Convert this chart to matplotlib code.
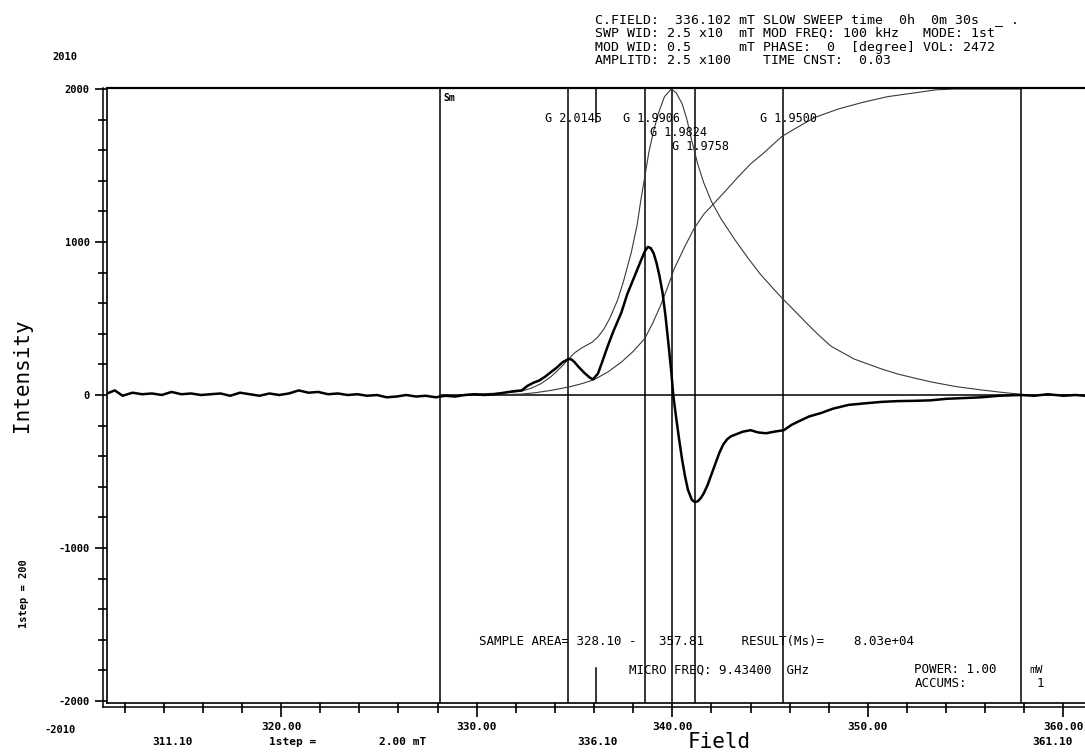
import matplotlib
matplotlib.use("Agg")
from matplotlib import pyplot as plt
from matplotlib.lines import Line2D
import numpy as np

####  dati letti dallo spettro ESR  ####
# derivata prima (traccia spessa): coppie (campo mT, intensita')
deriv = [(311.1, 10), (311.5, 30), (311.9, -5), (312.4, 15), (312.9, 5), (313.4, 10),
         (313.9, 0), (314.4, 20), (314.9, 5), (315.4, 10), (315.9, 0), (316.4, 5),
         (316.9, 10), (317.4, -5), (317.9, 15), (318.4, 5), (318.9, -5), (319.4, 10),
         (319.9, 0), (320.4, 10), (320.9, 30), (321.4, 15), (321.9, 20), (322.4, 5),
         (322.9, 10), (323.4, 0), (323.9, 5), (324.4, -5), (324.9, 0), (325.4, -15),
         (325.9, -10), (326.4, 0), (326.9, -10), (327.4, -5), (327.9, -15), (328.4, -5),
         (328.9, -10), (329.4, 0), (329.9, 5), (330.4, 0), (330.9, 5), (331.4, 15),
         (331.9, 25), (332.3, 30), (332.6, 60), (332.9, 80), (333.2, 95), (333.5, 120),
         (333.8, 150), (334.1, 180), (334.4, 215), (334.7, 235), (334.85, 232), (335.0, 215),
         (335.2, 185), (335.5, 145), (335.8, 112), (335.95, 103), (336.2, 140), (336.4, 210),
         (336.7, 320), (337.0, 420), (337.4, 540), (337.7, 660), (338.1, 785), (338.4, 880),
         (338.6, 940), (338.75, 968), (338.9, 960), (339.05, 925), (339.2, 860), (339.35, 775),
         (339.5, 670), (339.65, 520), (339.8, 340), (339.95, 150), (340.05, 0), (340.2, -150),
         (340.35, -290), (340.5, -420), (340.65, -530), (340.8, -620), (341.0, -685), (341.15, -700),
         (341.3, -695), (341.45, -675), (341.6, -645), (341.8, -590), (342.0, -520), (342.2, -450),
         (342.4, -380), (342.6, -325), (342.8, -290), (343.0, -270), (343.3, -255), (343.6, -240),
         (344.0, -230), (344.4, -245), (344.8, -250), (345.2, -240), (345.7, -230), (346.1, -195),
         (346.5, -170), (347.0, -140), (347.6, -118), (348.2, -90), (349.0, -65), (349.8, -55),
         (350.7, -45), (351.5, -40), (352.4, -38), (353.2, -35), (354.0, -25), (354.9, -20),
         (355.8, -15), (356.7, -5), (357.8, 0), (358.5, -5), (359.2, 5), (360.0, -5),
         (360.6, 0), (361.1, -5)]
field_d = [p[0] for p in deriv]
signal_d = [p[1] for p in deriv]

# primo integrale (assorbimento)
field_a = [328.1, 329.0, 330.0, 331.0, 331.8, 332.3, 332.8, 333.3, 333.8, 334.3,
           334.7, 335.0, 335.4, 335.9, 336.2, 336.5, 336.8, 337.2, 337.5, 337.9,
           338.2, 338.4, 338.6, 338.8, 339.05, 339.3, 339.6, 339.95, 340.2, 340.5,
           340.75, 341.0, 341.3, 341.6, 342.0, 342.5, 343.2, 343.9, 344.5, 345.2,
           345.6, 346.1, 346.6, 346.9, 347.5, 348.1, 349.3, 350.7, 351.5, 352.4,
           353.25, 354.5, 355.8, 356.8, 357.8]
signal_a = [0, 2, 6, 12, 18, 25, 45, 75, 120, 180,
            235, 275, 310, 345, 380, 430, 500, 620, 740, 930,
            1110, 1280, 1430, 1585, 1730, 1845, 1950, 2000, 1975, 1905,
            1800, 1660, 1510, 1390, 1265, 1150, 1015, 890, 790, 690,
            635, 570, 505, 465, 390, 320, 235, 170, 138, 110,
            85, 55, 33, 18, 5]

# secondo integrale
field_i = [328.1, 330.0, 331.5, 332.3, 333.0, 333.8, 334.8, 335.4, 336.0, 336.7,
           337.4, 338.0, 338.6, 339.0, 339.4, 339.75, 340.1, 340.6, 341.1, 341.6,
           342.15, 342.8, 343.4, 344.0, 344.7, 345.6, 346.6, 347.3, 348.5, 349.8,
           351.0, 352.4, 353.5, 354.4, 357.8]
signal_i = [0, 1, 3, 6, 15, 30, 55, 75, 100, 150,
            215, 285, 370, 470, 585, 700, 825, 960, 1085, 1180,
            1255, 1345, 1430, 1510, 1585, 1690, 1765, 1815, 1870, 1915,
            1950, 1975, 1995, 2000, 2000]

sample_area = [328.10, 357.81]
center_field = 336.10
g_fields = [334.65, 338.62, 340.01, 341.15, 345.65]
g_labels = ["G 2.0145", "G 1.9906", "G 1.9824", "G 1.9758", "G 1.9500"]
g_rows = [0, 0, 1, 2, 0]

x_major = [320, 330, 340, 350, 360]
y_major = [-2000, -1000, 0, 1000, 2000]

header = ["C.FIELD:  336.102 mT SLOW SWEEP time  0h  0m 30s  _ .",
          "SWP WID: 2.5 x10  mT MOD FREQ: 100 kHz   MODE: 1st",
          "MOD WID: 0.5      mT PHASE:  0  [degree] VOL: 2472",
          "AMPLITD: 2.5 x100    TIME CNST:  0.03"]

mono = 'DejaVu Sans Mono'

fig = plt.figure(figsize=(10.85, 7.56), dpi=100)
ax = fig.add_axes([107/1085, 1-702.5/756, 978/1085, 615/756])
ax.set_xlim(311.1, 361.1)
ax.set_ylim(-2010, 2010)

ax.spines['right'].set_visible(False)
ax.spines['top'].set_linewidth(1.6)
ax.spines['left'].set_linewidth(1.2)
ax.spines['bottom'].set_linewidth(1.2)

# linee verticali (area campione + marcatori g)
for f in sample_area + g_fields:
    ax.axvline(f, color='black', lw=1.1)
ax.plot([center_field, center_field], [2010, 1785], color='black', lw=1.1)
ax.plot([center_field, center_field], [-2010, -1785], color='black', lw=1.1)
ax.plot([sample_area[0], 361.1], [0, 0], color='black', lw=1.1)

ax.plot(field_a, signal_a, color='#3a3a3a', lw=0.8)
ax.plot(field_i, signal_i, color='#3a3a3a', lw=0.8)
ax.plot(field_d, signal_d, color='black', lw=1.8)

for f, lab, r in zip(g_fields, g_labels, g_rows):
    ax.text(f - 1.15, 1810 - r*92, lab, family=mono, fontsize=8.5, va='center', ha='left')
ax.text(328.29, 1941, 'Sm', family=mono, fontsize=7, fontweight='bold', va='center')

ax.text(330.13, -1608, 'SAMPLE AREA= %.2f -   %.2f     RESULT(Ms)=    8.03e+04' % tuple(sample_area),
        family=mono, fontsize=9, va='center', ha='left')
ax.text(337.8, -1797, 'MICRO FREQ: 9.43400  GHz', family=mono, fontsize=9, va='center')
ax.text(352.38, -1797, 'POWER: 1.00', family=mono, fontsize=9, va='center')
ax.text(358.26, -1797, 'mW', family=mono, fontsize=8, va='center')
ax.text(352.38, -1889, 'ACCUMS:', family=mono, fontsize=9, va='center')
ax.text(358.6, -1889, '1', family=mono, fontsize=9, va='center')

# assi
ax.set_xticks(x_major)
ax.set_xticks(np.arange(312, 361, 2), minor=True)
ax.set_xticklabels(['%.2f' % v for v in x_major], family=mono, fontweight='bold', fontsize=8)
ax.set_yticks(y_major)
ax.set_yticks(np.arange(-2000, 2001, 200), minor=True)
ax.set_yticklabels(['%d' % v for v in y_major], family=mono, fontweight='bold', fontsize=7.5)
ax.tick_params(axis='x', which='major', direction='out', length=10, width=1.2, pad=4)
ax.tick_params(axis='x', which='minor', direction='out', length=7, width=1.2)
ax.tick_params(axis='y', which='major', direction='out', length=8.6, width=1.2, pad=4)
ax.tick_params(axis='y', which='minor', direction='out', length=6.5, width=1.2)

# doppio bordo
fig.add_artist(Line2D([103/1085, 103/1085], [1-88/756, 1-707/756], color='black', lw=1.1))
fig.add_artist(Line2D([103/1085, 1.0], [1-707/756, 1-707/756], color='black', lw=1.1))

# testi esterni
for i, line in enumerate(header):
    fig.text(595/1085, 1-(20 + i*13.5)/756, line, family=mono, fontsize=9.5, va='center', ha='left')

fig.text(65/1085, 1-57/756, '2010', family=mono, fontweight='bold', fontsize=7.5, ha='center', va='center')
fig.text(60/1085, 1-730/756, '-2010', family=mono, fontweight='bold', fontsize=7.5, ha='center', va='center')
fig.text(22/1085, 1-375/756, 'Intensity', family=mono, fontsize=15, rotation=90, ha='center', va='center')
fig.text(24/1085, 1-594/756, '1step = 200', family=mono, fontweight='bold', fontsize=7.5, rotation=90, ha='center', va='center')

fig.text(173/1085, 1-742/756, '311.10', family=mono, fontweight='bold', fontsize=8, ha='center', va='center')
fig.text(293/1085, 1-742/756, '1step =', family=mono, fontweight='bold', fontsize=8, ha='center', va='center')
fig.text(403/1085, 1-742/756, '2.00 mT', family=mono, fontweight='bold', fontsize=8, ha='center', va='center')
fig.text(598/1085, 1-742/756, '%.2f' % center_field, family=mono, fontweight='bold', fontsize=8, ha='center', va='center')
fig.text(719/1085, 1-742/756, 'Field', family=mono, fontsize=15, ha='center', va='center')
fig.text(1053/1085, 1-742/756, '361.10', family=mono, fontweight='bold', fontsize=8, ha='center', va='center')

fig.savefig('out.png', dpi=100)
